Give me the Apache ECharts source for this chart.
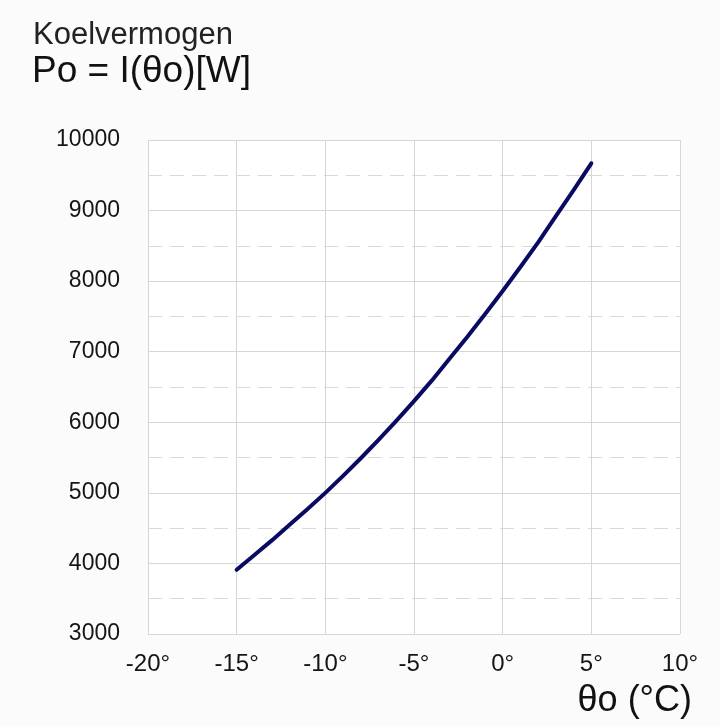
<!DOCTYPE html>
<html>
<head>
<meta charset="utf-8">
<script src="https://cdn.jsdelivr.net/npm/echarts@6/dist/echarts.min.js"></script>
<style>
html,body{margin:0;padding:0;background:#fbfbfb;}
#chart{width:720px;height:726px;}
</style>
</head>
<body>
<div id="chart"></div>
<script>
// Data
const theta = [-15, -14, -13, -12, -11, -10, -9, -8, -7, -6, -5, -4, -3, -2, -1, 0, 1, 2, 3, 4, 5]; // θo (°C)
const power = [3910, 4120, 4330, 4550, 4770, 5000, 5240, 5490, 5750, 6020, 6300,
               6590, 6900, 7210, 7530, 7860, 8200, 8550, 8920, 9290, 9670];                      // Po [W]
const titleLine1 = 'Koelvermogen';
const titleLine2 = 'Po = I(θo)[W]';
const xAxisName = 'θo (°C)';
const xMin = -20, xMax = 10, xStep = 5;
const yMin = 3000, yMax = 10000, yStep = 1000;

const chart = echarts.init(document.getElementById('chart'), null, {renderer: 'canvas'});
const font = '"Liberation Sans", Arial, Helvetica, sans-serif';
const gridColor = '#d6d6d6';

chart.setOption({
  backgroundColor: '#fbfbfb',
  animation: false,
  grid: {left: 148, right: 40, top: 140, bottom: 92, show: true, backgroundColor: '#ffffff', borderWidth: 0},
  xAxis: {
    type: 'value', min: xMin, max: xMax, interval: xStep,
    axisLine: {show: false}, axisTick: {show: false},
    axisLabel: {formatter: v => v + '°', fontFamily: font, fontSize: 24, color: '#151515', margin: 18},
    splitLine: {show: true, lineStyle: {color: gridColor, width: 1}}
  },
  yAxis: {
    type: 'value', min: yMin, max: yMax, interval: yStep,
    axisLine: {show: false}, axisTick: {show: false},
    axisLabel: {formatter: v => String(v), fontFamily: font, fontSize: 23, color: '#151515', margin: 28},
    splitLine: {show: true, lineStyle: {color: gridColor, width: 1}},
    minorTick: {show: false, splitNumber: 2},
    minorSplitLine: {show: true, lineStyle: {color: '#d9d9d9', width: 1, type: [14, 8]}}
  },
  series: [{
    type: 'line',
    data: theta.map((t, i) => [t, power[i]]),
    smooth: false,
    showSymbol: false,
    lineStyle: {color: '#0a0a62', width: 4, cap: 'round', join: 'round'}
  }],
  graphic: [
    {type: 'text', left: 33, top: 20, style: {text: titleLine1, font: '31px ' + font, fill: '#222222'}},
    {type: 'text', left: 32, top: 53, style: {text: titleLine2, font: '37px ' + font, fill: '#111111'}},
    {type: 'text', right: 28, top: 683, style: {text: xAxisName, font: '36px ' + font, fill: '#111111'}}
  ]
});
</script>
</body>
</html>
